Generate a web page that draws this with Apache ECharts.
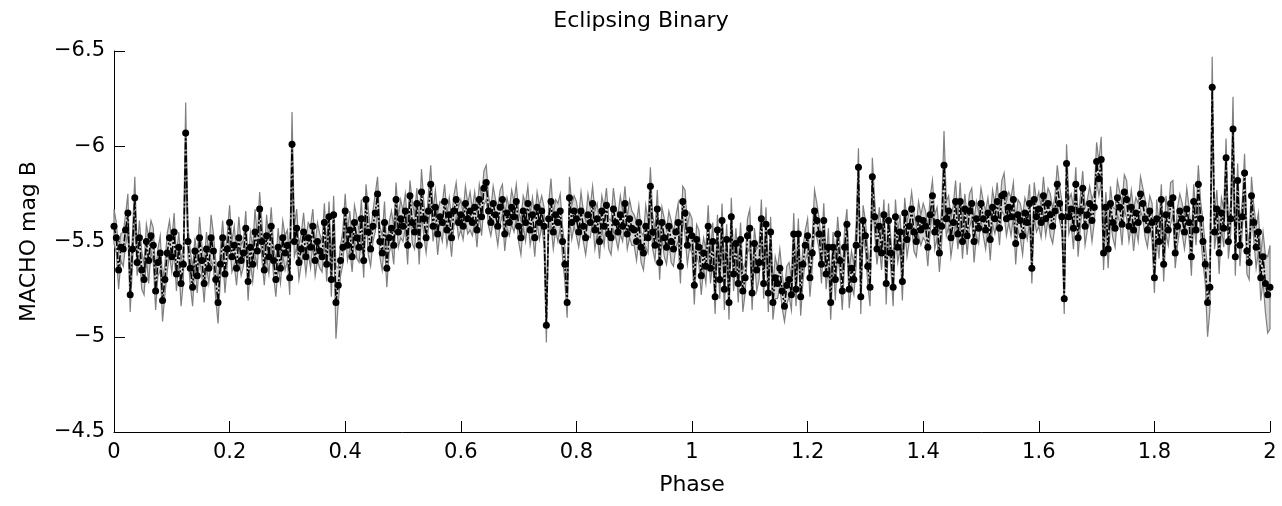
<!DOCTYPE html>
<html>
<head>
<meta charset="utf-8">
<script src="https://cdn.jsdelivr.net/npm/echarts@6/dist/echarts.min.js"></script>
<style>
html,body{margin:0;padding:0;background:#fff;}
#chart{width:1282px;height:506px;}
</style>
</head>
<body>
<div id="chart"></div>
<script>
// Phase grid: one observation every 0.004 in phase, 0 .. 2
const phaseStart = 0;
const phaseStep = 0.004;

// MACHO B magnitudes (one row per 0.1 of phase)
const magB = [
-5.58,-5.52,-5.35,-5.47,-5.46,-5.56,-5.65,-5.22,-5.46,-5.73,-5.39,-5.52,-5.35,-5.30,-5.50,-5.40,-5.53,-5.48,-5.24,-5.39,-5.44,-5.19,-5.30,-5.44,-5.52,
-5.42,-5.55,-5.33,-5.47,-5.28,-5.38,-6.07,-5.50,-5.36,-5.26,-5.45,-5.32,-5.52,-5.40,-5.28,-5.46,-5.36,-5.52,-5.45,-5.30,-5.18,-5.38,-5.52,-5.33,-5.46,
-5.60,-5.42,-5.48,-5.36,-5.52,-5.40,-5.44,-5.57,-5.29,-5.47,-5.38,-5.55,-5.45,-5.67,-5.50,-5.35,-5.53,-5.42,-5.58,-5.40,-5.30,-5.47,-5.36,-5.52,-5.44,
-5.48,-5.31,-6.01,-5.50,-5.57,-5.39,-5.46,-5.55,-5.42,-5.52,-5.47,-5.58,-5.40,-5.50,-5.45,-5.42,-5.60,-5.38,-5.63,-5.30,-5.64,-5.18,-5.27,-5.40,-5.47,
-5.66,-5.48,-5.56,-5.42,-5.60,-5.52,-5.47,-5.62,-5.40,-5.72,-5.55,-5.46,-5.58,-5.65,-5.75,-5.50,-5.44,-5.60,-5.36,-5.52,-5.57,-5.48,-5.72,-5.55,-5.62,
-5.58,-5.66,-5.48,-5.74,-5.60,-5.55,-5.70,-5.48,-5.76,-5.62,-5.52,-5.66,-5.80,-5.58,-5.68,-5.54,-5.63,-5.60,-5.71,-5.56,-5.64,-5.52,-5.66,-5.72,-5.60,
-5.64,-5.58,-5.70,-5.62,-5.66,-5.60,-5.68,-5.56,-5.72,-5.63,-5.78,-5.81,-5.66,-5.60,-5.70,-5.64,-5.58,-5.68,-5.72,-5.54,-5.65,-5.60,-5.68,-5.63,-5.71,
-5.58,-5.52,-5.66,-5.60,-5.70,-5.56,-5.64,-5.52,-5.68,-5.60,-5.66,-5.58,-5.06,-5.62,-5.71,-5.55,-5.64,-5.60,-5.66,-5.50,-5.38,-5.18,-5.73,-5.60,-5.66,
-5.62,-5.55,-5.66,-5.58,-5.52,-5.64,-5.60,-5.70,-5.56,-5.62,-5.50,-5.66,-5.58,-5.69,-5.54,-5.52,-5.67,-5.60,-5.55,-5.64,-5.58,-5.70,-5.54,-5.62,-5.57,
-5.56,-5.50,-5.60,-5.47,-5.44,-5.58,-5.52,-5.79,-5.55,-5.48,-5.67,-5.39,-5.60,-5.52,-5.47,-5.58,-5.50,-5.46,-5.55,-5.60,-5.37,-5.71,-5.65,-5.48,-5.56,
-5.53,-5.27,-5.51,-5.47,-5.32,-5.44,-5.37,-5.58,-5.36,-5.50,-5.21,-5.56,-5.30,-5.61,-5.25,-5.51,-5.18,-5.63,-5.33,-5.49,-5.28,-5.51,-5.24,-5.31,-5.53,
-5.57,-5.23,-5.49,-5.35,-5.39,-5.62,-5.28,-5.59,-5.23,-5.55,-5.18,-5.31,-5.28,-5.36,-5.24,-5.16,-5.27,-5.30,-5.22,-5.54,-5.25,-5.54,-5.21,-5.38,-5.48,
-5.53,-5.31,-5.44,-5.66,-5.61,-5.54,-5.38,-5.61,-5.33,-5.47,-5.18,-5.47,-5.30,-5.54,-5.40,-5.24,-5.47,-5.59,-5.25,-5.36,-5.30,-5.48,-5.89,-5.21,-5.61,
-5.53,-5.37,-5.26,-5.84,-5.63,-5.46,-5.58,-5.44,-5.64,-5.28,-5.61,-5.44,-5.26,-5.63,-5.47,-5.55,-5.29,-5.65,-5.51,-5.58,-5.67,-5.55,-5.50,-5.62,-5.56,
-5.61,-5.58,-5.47,-5.64,-5.74,-5.55,-5.60,-5.44,-5.58,-5.90,-5.62,-5.66,-5.52,-5.60,-5.71,-5.54,-5.71,-5.50,-5.67,-5.53,-5.66,-5.70,-5.50,-5.62,-5.57,
-5.70,-5.62,-5.56,-5.65,-5.51,-5.68,-5.62,-5.71,-5.57,-5.74,-5.75,-5.62,-5.68,-5.63,-5.72,-5.49,-5.64,-5.61,-5.53,-5.65,-5.60,-5.70,-5.36,-5.72,-5.63,
-5.67,-5.60,-5.74,-5.62,-5.70,-5.64,-5.58,-5.66,-5.80,-5.70,-5.63,-5.20,-5.91,-5.63,-5.67,-5.57,-5.80,-5.52,-5.66,-5.78,-5.58,-5.64,-5.70,-5.61,-5.68,
-5.92,-5.83,-5.93,-5.44,-5.68,-5.46,-5.70,-5.60,-5.57,-5.73,-5.68,-5.59,-5.76,-5.72,-5.58,-5.68,-5.56,-5.65,-5.60,-5.75,-5.70,-5.62,-5.56,-5.66,-5.60,
-5.31,-5.62,-5.50,-5.72,-5.38,-5.64,-5.56,-5.70,-5.73,-5.44,-5.58,-5.66,-5.62,-5.55,-5.67,-5.60,-5.42,-5.71,-5.56,-5.80,-5.62,-5.50,-5.38,-5.18,-5.26,
-6.31,-5.55,-5.67,-5.44,-5.65,-5.57,-5.94,-5.50,-5.62,-6.09,-5.42,-5.82,-5.48,-5.63,-5.86,-5.45,-5.39,-5.74,-5.60,-5.47,-5.55,-5.31,-5.42,-5.28,-5.22,
-5.26
];

// Photometric errors, in hundredths of a magnitude
const magErrCenti = [
9,8,10,7,9,8,10,9,8,11,7,9,10,8,9,12,8,9,10,7,9,11,8,10,9,
8,10,9,8,12,9,16,8,9,10,7,9,11,8,10,9,8,12,9,10,11,8,9,10,8,
9,8,10,9,11,8,7,9,10,8,9,12,8,9,10,8,11,9,10,8,9,10,8,9,9,
8,9,17,8,10,9,8,10,9,8,11,9,8,10,9,8,10,9,8,9,10,19,9,8,9,
9,8,10,8,9,11,8,10,9,8,12,9,8,10,9,8,9,11,10,8,9,10,9,8,10,
8,9,10,8,11,9,8,10,12,9,8,9,10,8,9,11,8,10,9,8,9,10,8,9,8,
8,7,9,8,10,7,8,9,8,10,9,9,8,7,9,8,10,9,8,9,8,7,9,8,9,
8,9,8,10,9,8,9,10,8,9,8,10,9,8,12,9,8,10,9,8,9,8,11,9,8,
9,8,10,8,9,11,8,9,10,8,9,8,10,9,8,9,11,8,9,10,8,9,8,10,9,
8,10,9,8,9,11,8,10,9,8,10,9,8,10,9,8,11,9,8,10,9,8,12,10,9,
9,10,8,9,10,8,9,11,8,10,9,8,10,9,11,8,9,10,9,8,10,9,11,8,9,
10,9,8,11,9,10,8,9,10,8,9,11,8,10,9,8,10,9,8,11,9,8,10,9,8,
9,10,8,11,9,8,10,9,8,10,9,8,11,9,8,10,9,8,10,9,8,11,10,9,8,
8,9,10,10,9,8,10,9,8,11,9,8,10,9,8,9,10,8,9,8,9,10,8,9,8,
9,8,10,9,8,9,8,10,9,18,9,8,10,9,11,8,10,9,8,10,9,8,11,9,8,
8,9,10,8,11,9,8,10,9,8,11,9,8,10,9,11,8,9,10,8,9,10,8,9,8,
9,8,10,9,8,11,9,8,10,9,8,8,10,9,8,11,9,10,8,9,10,8,9,11,8,
10,9,12,9,8,10,9,8,10,9,8,11,9,10,8,9,11,8,10,9,8,10,9,8,10,
8,10,9,8,9,10,8,11,9,8,10,9,8,9,11,8,10,9,8,10,9,11,10,18,12,
16,9,10,11,8,10,10,9,8,17,10,9,11,8,10,12,9,10,9,11,10,12,13,15,20,
22
];

const xTicks = [0, 0.2, 0.4, 0.6, 0.8, 1, 1.2, 1.4, 1.6, 1.8, 2];
const yTicks = [-6.5, -6, -5.5, -5, -4.5];

const phase = magB.map((_, i) => +(phaseStart + i * phaseStep).toFixed(3));
const magErr = magErrCenti.map(e => e / 100);
const points = magB.map((m, i) => [phase[i], m]);

const FONT = 'DejaVu Sans';
const chart = echarts.init(document.getElementById('chart'), null, {renderer: 'canvas'});

chart.setOption({
  backgroundColor: '#ffffff',
  animation: false,
  title: {
    text: 'Eclipsing Binary',
    left: 'center',
    top: 6,
    padding: [4, 0, 0, 102],
    textStyle: {fontFamily: FONT, fontSize: 22, fontWeight: 'normal', color: '#000'}
  },
  grid: {left: 114, right: 12, top: 51, bottom: 74, containLabel: false},
  xAxis: {
    type: 'value',
    min: xTicks[0], max: xTicks[xTicks.length - 1], interval: 0.2,
    name: 'Phase', nameLocation: 'middle', nameGap: 42,
    nameTextStyle: {fontFamily: FONT, fontSize: 22, color: '#000'},
    axisLine: {show: true, onZero: false, lineStyle: {color: '#000', width: 1}},
    axisTick: {show: true, inside: true, length: 11, lineStyle: {color: '#000', width: 1}},
    axisLabel: {fontFamily: FONT, fontSize: 21, color: '#000', margin: 10,
      formatter: v => String(+(+v).toFixed(1))},
    splitLine: {show: false}
  },
  yAxis: {
    type: 'value', inverse: true,
    min: yTicks[0], max: yTicks[yTicks.length - 1], interval: 0.5,
    name: 'MACHO mag B', nameLocation: 'middle', nameGap: 74,
    nameTextStyle: {fontFamily: FONT, fontSize: 22, color: '#000'},
    axisLine: {show: true, onZero: false, lineStyle: {color: '#000', width: 1}},
    axisTick: {show: true, inside: true, length: 11, lineStyle: {color: '#000', width: 1}},
    axisLabel: {fontFamily: FONT, fontSize: 21, color: '#000', margin: 9,
      formatter: v => String(+(+v).toFixed(1)).replace('-', '\u2212')},
    splitLine: {show: false}
  },
  series: [
    {
      type: 'custom',
      name: 'error band',
      coordinateSystem: 'cartesian2d',
      silent: true,
      z: 1,
      data: [[phase[0], magB[0]]],
      encode: {x: 0, y: 1},
      renderItem: function (params, api) {
        const up = [], lo = [];
        for (let i = 0; i < magB.length; i++) {
          up.push(api.coord([phase[i], magB[i] - magErr[i]]));
          lo.push(api.coord([phase[i], magB[i] + magErr[i]]));
        }
        return {
          type: 'polygon',
          shape: {points: up.concat(lo.reverse())},
          style: {fill: '#d6d6d6', stroke: '#7f7f7f', lineWidth: 1.2}
        };
      }
    },
    {
      type: 'line',
      name: 'MACHO B',
      data: points,
      z: 3,
      symbol: 'circle',
      symbolSize: 7,
      showSymbol: true,
      showAllSymbol: true,
      itemStyle: {color: '#000'},
      lineStyle: {color: '#000', width: 1.6, type: [7, 2, 2, 2]},
      emphasis: {disabled: true}
    }
  ]
});
</script>
</body>
</html>
